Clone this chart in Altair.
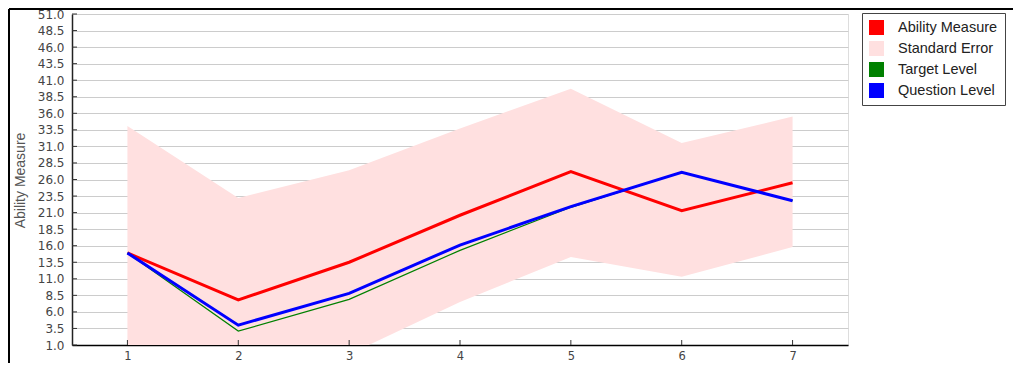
import altair as alt
import pandas as pd

# ---- data ----
questions = [1, 2, 3, 4, 5, 6, 7]
ability = [14.9, 7.8, 13.5, 20.6, 27.2, 21.3, 25.5]
target_level = [14.9, 3.1, 7.9, 15.3, 21.8, 27.1, 22.8]
question_level = [14.9, 4.0, 8.8, 16.1, 21.9, 27.1, 22.8]
se_lower = [-4.2, -7.6, -0.4, 7.5, 14.3, 11.3, 15.8]
se_upper = [34.1, 23.2, 27.4, 33.7, 39.7, 31.5, 35.5]
series_names = ["Ability Measure", "Standard Error", "Target Level", "Question Level"]
series_colors = ["#FF0000", "#FFE0E0", "#008000", "#0000FF"]
y_ticks = [1.0, 3.5, 6.0, 8.5, 11.0, 13.5, 16.0, 18.5, 21.0, 23.5, 26.0,
           28.5, 31.0, 33.5, 36.0, 38.5, 41.0, 43.5, 46.0, 48.5, 51.0]

lines_df = pd.DataFrame({
    "question": questions * 3,
    "value": ability + target_level + question_level,
    "series": ["Ability Measure"] * 7 + ["Target Level"] * 7 + ["Question Level"] * 7,
})
band_df = pd.DataFrame({"question": questions, "lower": se_lower, "upper": se_upper})
ytick_df = pd.DataFrame({"value": y_ticks})
xtick_df = pd.DataFrame({"question": questions})
frame_df = pd.DataFrame({"k": [0]})

PLOT_W, PLOT_H = 776, 331

x_scale = alt.Scale(domain=[0.5, 7.5], nice=False, zero=False)
y_scale = alt.Scale(domain=[1, 51], nice=False, zero=False)
color_scale = alt.Scale(domain=series_names, range=series_colors)

x_axis = alt.Axis(values=questions, format="d", grid=False, ticks=False, title=None,
                  labelFont="DejaVu Sans", labelFontSize=11.5, labelColor="#444",
                  labelPadding=5, domainColor="black", domainWidth=1.5)
y_axis = alt.Axis(values=y_ticks, format=".1f", grid=True, gridColor="#cccccc",
                  gridWidth=1, ticks=False, labelFont="DejaVu Sans", labelFontSize=12,
                  labelColor="#444", labelPadding=8, domainColor="#222", domainWidth=1.5,
                  title="Ability Measure", titleFont="Liberation Sans", titleFontSize=14,
                  titleFontWeight="normal", titleColor="#555", titleAngle=270,
                  titleX=-52, titleY=166, titleAlign="center", titleBaseline="middle")
legend = alt.Legend(title=None, orient="none", legendX=790, legendY=-1,
                    direction="vertical", symbolType="square", symbolSize=225,
                    symbolStrokeWidth=0, symbolOpacity=1, labelFont="Liberation Sans",
                    labelFontSize=14.5, labelColor="#222", labelOffset=14, rowPadding=5,
                    padding=7, strokeColor="#444", fillColor="white")

X = alt.X("question:Q", scale=x_scale, axis=x_axis)
Y = alt.Y("value:Q", scale=y_scale, axis=y_axis)
C = alt.Color("series:N", scale=color_scale, legend=legend)

legend_layer = alt.Chart(lines_df).transform_filter("false").mark_square(
    size=225, opacity=1, filled=True).encode(x=X, y=Y, color=C)

band = alt.Chart(band_df).mark_area(color="#FFE0E0", opacity=1, clip=True).encode(
    x=X,
    y=alt.Y("lower:Q", scale=y_scale, axis=y_axis),
    y2="upper:Q",
)

def line_for(name, width):
    return alt.Chart(lines_df).transform_filter(
        alt.datum.series == name
    ).mark_line(strokeWidth=width, clip=True).encode(x=X, y=Y, color=C)

red = line_for("Ability Measure", 3)
green = line_for("Target Level", 1.2)
blue = line_for("Question Level", 3)

# inside tick marks, as in the reference
yticks = alt.Chart(ytick_df).mark_rule(color="#333", strokeWidth=1).encode(
    y=alt.Y("value:Q", scale=y_scale, axis=y_axis), x=alt.value(0), x2=alt.value(5))
xticks = alt.Chart(xtick_df).mark_rule(color="#333", strokeWidth=1).encode(
    x=alt.X("question:Q", scale=x_scale, axis=x_axis), y=alt.value(PLOT_H), y2=alt.value(PLOT_H - 5))

frame_top = alt.Chart(frame_df).mark_rule(color="black", strokeWidth=2).encode(
    x=alt.value(-63), x2=alt.value(941), y=alt.value(-5))
frame_left = alt.Chart(frame_df).mark_rule(color="black", strokeWidth=2).encode(
    x=alt.value(-63), y=alt.value(-5), y2=alt.value(350))

chart = alt.layer(legend_layer, band, red, green, blue, yticks, xticks,
                  frame_top, frame_left).properties(
    width=PLOT_W, height=PLOT_H,
    autosize=alt.AutoSizeParams(type="none"),
    padding={"left": 64, "top": 6, "right": 165, "bottom": 18},
).configure_view(stroke="#222", strokeWidth=1.5).configure(background="white")

chart.save("out.html", embed_options={"renderer": "svg", "actions": False})
